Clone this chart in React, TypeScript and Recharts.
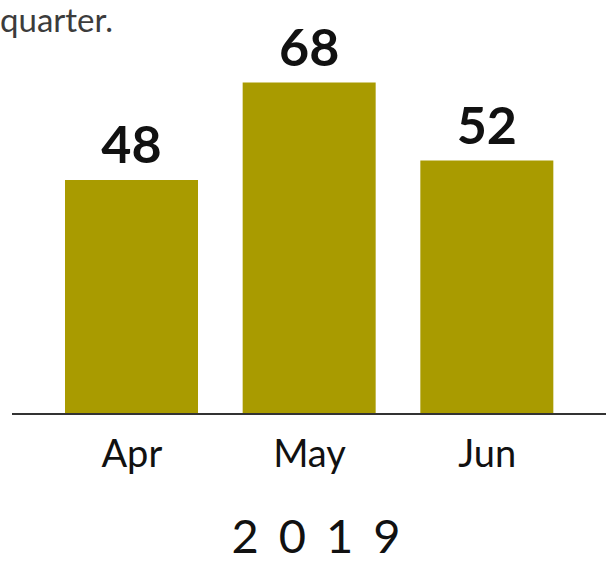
import React from 'react';
import { BarChart, Bar, XAxis, YAxis, LabelList } from 'recharts';

const months = ['Apr', 'May', 'Jun'];
const values = [48, 68, 52];
const yearLabel = '2019';
const subtitleTail = 'quarter.';

const data = months.map((m, i) => ({ month: m, value: values[i] }));

const BAR_COLOR = '#a99b00';

const YearLabel = (props: any) => {
  const vb = props.viewBox || { x: 0, y: 0, width: 0, height: 0 };
  return (
    <text
      x={vb.x + vb.width / 2 + 17}
      y={vb.y + vb.height - 13}
      textAnchor="middle"
      fill="#111"
      style={{ fontFamily: 'Lato, sans-serif', fontSize: 47, letterSpacing: 20 }}
    >
      {yearLabel}
    </text>
  );
};

export default function App() {
  return (
    <div style={{ position: 'absolute', left: 0, top: 0, width: 606, height: 566, background: '#fff' }}>
      <BarChart
        width={606}
        height={566}
        data={data}
        margin={{ top: 24, right: 0, left: 12, bottom: 0 }}
      >
        <text
          x={0}
          y={32}
          fill="#3c3c3c"
          style={{ fontFamily: 'Lato, sans-serif', fontSize: 33 }}
        >
          {subtitleTail}
        </text>
        <XAxis
          dataKey="month"
          axisLine={{ stroke: '#333', strokeWidth: 2 }}
          tickLine={false}
          tickSize={0}
          tickMargin={26}
          height={152}
          interval={0}
          padding={{ left: 31, right: 30 }}
          tick={{ fill: '#111', fontSize: 38, fontFamily: 'Lato, sans-serif' }}
          label={<YearLabel />}
        />
        <YAxis hide domain={[0, 80]} />
        <Bar dataKey="value" fill={BAR_COLOR} barSize={133} isAnimationActive={false}>
          <LabelList
            dataKey="value"
            position="top"
            offset={17}
            fill="#111"
            style={{ fontFamily: 'Lato, sans-serif', fontSize: 52, fontWeight: 700 }}
          />
        </Bar>
      </BarChart>
    </div>
  );
}
